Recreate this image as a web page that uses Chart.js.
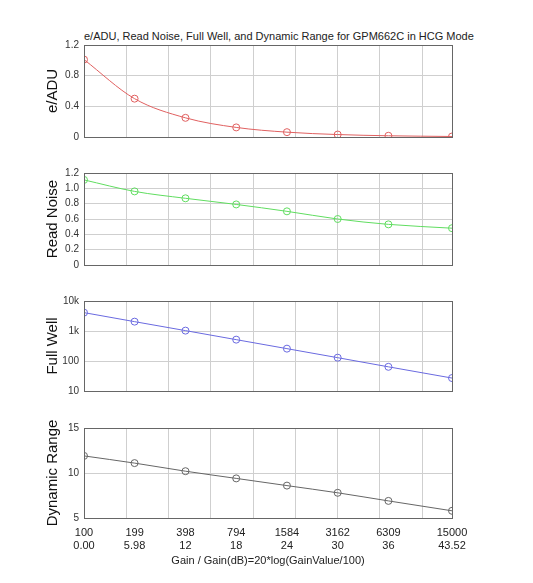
<!DOCTYPE html>
<html><head><meta charset="utf-8">
<script src="https://cdn.jsdelivr.net/npm/chart.js@4"></script>
<style>
body{margin:0;background:#fff;width:533px;height:583px;position:relative;overflow:hidden;font-family:Arial,"Liberation Sans",sans-serif}
canvas{position:absolute;left:0;top:0}
#title{position:absolute;top:30px;left:84px;width:368px;text-align:center;font-size:11px;color:#222;white-space:nowrap}
</style></head><body>
<div id="title">e/ADU, Read Noise, Full Well, and Dynamic Range for GPM662C in HCG Mode</div>
<canvas id="c1" width="533" height="583"></canvas>
<canvas id="c2" width="533" height="583"></canvas>
<canvas id="c3" width="533" height="583"></canvas>
<canvas id="c4" width="533" height="583"></canvas>
<script>
const gainValues = ['100','199','398','794','1584','3162','6309','15000'];
const gainDb = [0, 5.98, 12, 18, 24, 30, 36, 43.52];
const gainDbLabels = ['0.00','5.98','12','18','24','30','36','43.52'];
const eADU = [1.01, 0.50, 0.25, 0.125, 0.063, 0.032, 0.016, 0.0067];
const readNoise = [1.11, 0.96, 0.87, 0.79, 0.70, 0.60, 0.53, 0.48];
const fullWell = [4100, 2050, 1030, 515, 258, 129, 64, 27];
const dynamicRange = [11.9, 11.1, 10.2, 9.4, 8.6, 7.8, 6.9, 5.8];

const W=533,H=583,L=84,R=452,PADL=44;
const gridColor='#cfcfcf';
const boxPlugin={id:'box',afterDraw(c){const a=c.chartArea,x=c.ctx;x.save();x.strokeStyle='#666';x.lineWidth=1;x.strokeRect(Math.round(a.left)+0.5,Math.round(a.top)+0.5,Math.round(a.right-a.left),Math.round(a.bottom-a.top));x.restore();}};
const tickFont={size:10,family:'Arial, Liberation Sans'};
function make(id,data,color,top,bottom,yopt,ytitle,bottomAxis){
  const scales={
    x:{type:'linear',min:0,max:43.52,position:'bottom',
       afterBuildTicks(a){a.ticks=[0,5,10,15,20,25,30,35,40].map(v=>({value:v}));},
       ticks:{display:false},grid:{color:gridColor,lineWidth:1,drawTicks:false},border:{display:false},
       afterFit(a){a.height=bottomAxis?0:H-bottom;}},
    y:Object.assign({position:'left',
       grid:{color:gridColor,lineWidth:1,drawTicks:false},border:{display:false},
       title:{display:true,text:ytitle,color:'#111',font:{size:15,family:'Arial, Liberation Sans'},padding:{top:0,bottom:2}},
       afterFit(a){a.width=L-PADL;}},yopt)
  };
  scales.y.ticks=Object.assign({color:'#333',font:tickFont,padding:5},yopt.ticks||{});
  let padBottom=0;
  if(bottomAxis){
    padBottom=15;
    scales.x2={type:'linear',min:0,max:43.52,position:'bottom',
      afterBuildTicks(a){a.ticks=gainDb.map(v=>({value:v}));},
      ticks:{color:'#222',font:{size:11,family:'Arial, Liberation Sans'},maxRotation:0,autoSkip:false,padding:4,
        callback(v){const i=gainDb.indexOf(v);return i<0?'':[gainValues[i],gainDbLabels[i]];}},
      grid:{display:false,drawTicks:true,tickLength:4},border:{display:false},
      title:{display:true,text:'Gain / Gain(dB)=20*log(GainValue/100)',color:'#222',font:{size:11,family:'Arial, Liberation Sans'},padding:{top:2,bottom:0}},
      afterFit(a){a.height=H-bottom-padBottom;}};
  }
  new Chart(document.getElementById(id),{type:'line',
    data:{datasets:[{data:gainDb.map((x,i)=>({x,y:data[i]})),borderColor:color,backgroundColor:'rgba(0,0,0,0)',
      borderWidth:1,pointRadius:3.5,pointBorderWidth:1,pointBorderColor:color,pointBackgroundColor:'rgba(0,0,0,0)',
      cubicInterpolationMode:'monotone',xAxisID:'x'}]},
    options:{responsive:false,animation:false,events:[],
      layout:{padding:{top:top,right:W-R,left:PADL,bottom:padBottom}},
      plugins:{legend:{display:false},tooltip:{enabled:false}},scales},
    plugins:[boxPlugin]});
}
make('c1',eADU,'#e06060',45,137,{min:0,max:1.2,ticks:{stepSize:0.4}},'e/ADU',false);
make('c2',readNoise,'#60dd60',173,265,{min:0,max:1.2,ticks:{stepSize:0.2}},'Read Noise',false);
make('c3',fullWell,'#6a6ae0',301,391,{type:'logarithmic',min:10,max:10000,
  afterBuildTicks(a){a.ticks=[10,100,1000,10000].map(v=>({value:v}));},
  ticks:{callback(v){return v>=1000?(v/1000)+'k':String(v);}}},'Full Well',false);
make('c4',dynamicRange,'#666666',428,518,{min:5,max:15,ticks:{stepSize:5}},'Dynamic Range',true);
</script></body></html>
